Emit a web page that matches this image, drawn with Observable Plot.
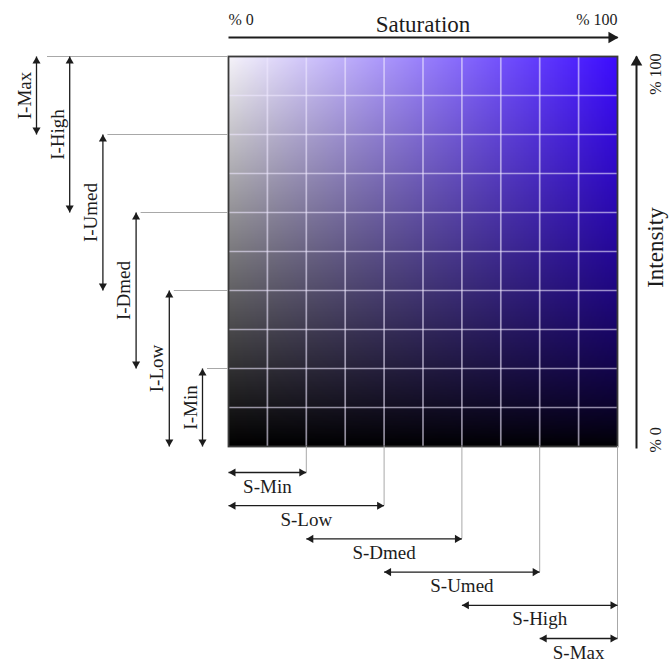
<!DOCTYPE html>
<html><head><meta charset="utf-8">
<script src="https://cdn.jsdelivr.net/npm/d3@7"></script>
<script src="https://cdn.jsdelivr.net/npm/@observablehq/plot@0.6"></script>
<style>body{margin:0;background:#fff}</style>
</head><body><div id="chart"></div>
<script>
// ---- data ----
const satLabels = ["S-Min", "S-Low", "S-Dmed", "S-Umed", "S-High", "S-Max"];
const satFrom = [0, 0, 20, 40, 60, 80];
const satTo = [20, 40, 60, 80, 100, 100];
const intLabels = ["I-Min", "I-Low", "I-Dmed", "I-Umed", "I-High", "I-Max"];
const intFrom = [0, 0, 20, 40, 60, 80];
const intTo = [20, 40, 60, 80, 100, 100];
const boundaries = [20, 40, 60, 80, 100];
const gridTicks = [10, 20, 30, 40, 50, 60, 70, 80, 90];
const domain = [0, 100];
const endLabels = ["% 0", "% 100"];
const axisTitles = ["Saturation", "Intensity"];
const colorWhite = [246, 244, 250];
const colorBlue = [60, 12, 255];

// ---- layout ----
const W = 671, H = 664;
const mL = 228, mR = 54, mT = 56, mB = 218;
const ux = 100 / (W - mL - mR); // data units per px (x)
const uy = 100 / (H - mT - mB); // data units per px (y)
const lanePx = k => -(26 + 33.2 * k);
const laneX = k => lanePx(k) * ux;
const laneY = k => lanePx(k) * uy;
const leaderLane = i => (i < 4 ? i : 5);
const font = "'Liberation Serif', 'Times New Roman', serif";
const ink = "#1c1c1c";

const sat = satLabels.map((label, i) => ({label, from: satFrom[i], to: satTo[i], lane: i}));
const inten = intLabels.map((label, i) => ({label, from: intFrom[i], to: intTo[i], lane: i}));

// colour field: grey component scales with intensity, blue component a little less steeply
const colorAt = (s, v) => {
  const t = Math.max(0, Math.min(1, s / 100));
  const k = Math.max(0, Math.min(1, v / 100));
  const kc = Math.pow(k, 0.75);
  const c = colorWhite.map((w, j) => Math.round(w * (1 - t) * k + colorBlue[j] * t * kc));
  return d3.rgb(c[0], c[1], c[2]).formatHex();
};

const headR = 3, headOff = 4.66;   // small arrowheads
const bigR = 4.3, bigOff = 6.7;    // axis arrowheads

const chart = Plot.plot({
  width: W, height: H,
  marginLeft: mL, marginRight: mR, marginTop: mT, marginBottom: mB,
  x: {domain, axis: null},
  y: {domain, axis: null},
  style: {fontFamily: font, background: "#fff"},
  marks: [
    Plot.raster({x1: domain[0], x2: domain[1], y1: domain[0], y2: domain[1], width: 240, height: 240, fill: (x, y) => colorAt(x, y)}),
    Plot.ruleX(gridTicks, {x: d => d, y1: domain[0], y2: domain[1], stroke: "#efe8ff", strokeOpacity: 0.6, strokeWidth: 1.7}),
    Plot.ruleY(gridTicks, {y: d => d, x1: domain[0], x2: domain[1], stroke: "#efe8ff", strokeOpacity: 0.6, strokeWidth: 1.7}),
    Plot.frame({stroke: "#3a3a3a", strokeWidth: 1.8}),

    // leader lines
    Plot.ruleX(boundaries, {x: d => d, y1: domain[0], y2: (d, i) => laneY(leaderLane(i)), stroke: "#a8a8a8", strokeWidth: 1}),
    Plot.ruleY(boundaries, {y: d => d, x1: domain[0], x2: (d, i) => laneX(leaderLane(i)) + (i < 4 ? 5 : 11) * ux, stroke: "#a8a8a8", strokeWidth: 1}),

    // saturation range arrows
    Plot.link(sat, {x1: "from", x2: "to", y1: d => laneY(d.lane), y2: d => laneY(d.lane), stroke: ink, strokeWidth: 1.3}),
    Plot.dot(sat, {x: "from", y: d => laneY(d.lane), symbol: "triangle", r: headR, fill: ink, rotate: -90, dx: headOff}),
    Plot.dot(sat, {x: "to", y: d => laneY(d.lane), symbol: "triangle", r: headR, fill: ink, rotate: 90, dx: -headOff}),
    Plot.text(sat, {x: d => (d.from + d.to) / 2, y: d => laneY(d.lane), text: "label", dy: 14, fontSize: 19, fill: ink}),

    // intensity range arrows
    Plot.link(inten, {y1: "from", y2: "to", x1: d => laneX(d.lane), x2: d => laneX(d.lane), stroke: ink, strokeWidth: 1.3}),
    Plot.dot(inten, {y: "from", x: d => laneX(d.lane), symbol: "triangle", r: headR, fill: ink, rotate: 180, dy: -headOff}),
    Plot.dot(inten, {y: "to", x: d => laneX(d.lane), symbol: "triangle", r: headR, fill: ink, rotate: 0, dy: headOff}),
    Plot.text(inten, {y: d => (d.from + d.to) / 2, x: d => laneX(d.lane), text: "label", dx: -12, rotate: -90, fontSize: 19, fill: ink}),

    // saturation axis (top)
    Plot.link([domain], {x1: d => d[0], x2: d => d[1], y1: 100 + 19 * uy, y2: 100 + 19 * uy, stroke: ink, strokeWidth: 2}),
    Plot.dot([domain[1]], {x: d => d, y: 100 + 19 * uy, symbol: "triangle", r: bigR, fill: ink, rotate: 90, dx: -bigOff + 1}),
    Plot.text([endLabels[0]], {x: domain[0], y: 100 + 37 * uy, text: d => d, textAnchor: "start", fontSize: 16, fill: ink}),
    Plot.text([endLabels[1]], {x: domain[1], y: 100 + 37 * uy, text: d => d, textAnchor: "end", fontSize: 16, fill: ink}),
    Plot.text([axisTitles[0]], {x: 50, y: 100 + 32 * uy, text: d => d, fontSize: 23, fill: ink}),

    // intensity axis (right)
    Plot.link([domain], {y1: d => d[0] - 2 * uy, y2: d => d[1], x1: 100 + 19 * ux, x2: 100 + 19 * ux, stroke: ink, strokeWidth: 2}),
    Plot.dot([domain[1]], {y: d => d, x: 100 + 19 * ux, symbol: "triangle", r: bigR, fill: ink, rotate: 0, dy: bigOff - 1}),
    Plot.text([endLabels[0]], {y: domain[0] - 6 * uy, x: 100 + 38 * ux, text: d => d, textAnchor: "start", rotate: -90, fontSize: 16, fill: ink}),
    Plot.text([endLabels[1]], {y: domain[1] + 3 * uy, x: 100 + 38 * ux, text: d => d, textAnchor: "end", rotate: -90, fontSize: 16, fill: ink}),
    Plot.text([axisTitles[1]], {y: 51, x: 100 + 38 * ux, text: d => d, rotate: -90, fontSize: 23, fill: ink})
  ]
});
document.getElementById("chart").appendChild(chart);
</script>
</body></html>
